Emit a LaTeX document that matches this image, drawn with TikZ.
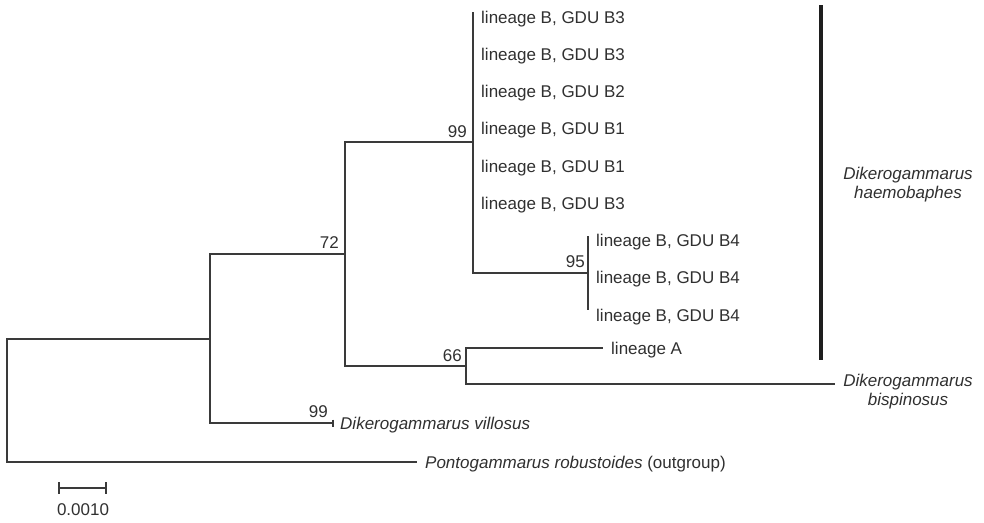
\documentclass[tikz,border=0pt]{standalone}
\usepackage{fontspec}
\setmainfont{Liberation Sans}
\definecolor{treegray}{HTML}{3A3A3A}
\definecolor{txtgray}{HTML}{303030}
\definecolor{bargray}{HTML}{1E1E1E}
\begin{document}
\begin{tikzpicture}[x=1pt,y=-1pt,
  branch/.style={draw=treegray, line width=1.9pt},
  leaflab/.style={anchor=base west, inner sep=0pt, text=txtgray, font=\fontsize{17}{19}\selectfont},
  boot/.style={anchor=base east, inner sep=0pt, text=txtgray, font=\fontsize{17}{19}\selectfont},
  cladelab/.style={anchor=base, inner sep=0pt, align=center, text=txtgray, font=\fontsize{17}{19}\selectfont\itshape}]
\useasboundingbox (0,0) rectangle (984,522);
% internal nodes
\coordinate (root) at (7,400.3);
\coordinate (n2) at (210,338.6);
\coordinate (n72) at (345,254.2);
\coordinate (n99) at (473,142.4);
\coordinate (n95) at (588,272.75);
\coordinate (n66) at (466,366);
% leaves
\coordinate (b1) at (473,12);
\coordinate (b2) at (473,49.25);
\coordinate (b3) at (473,86.5);
\coordinate (b4) at (473,123.75);
\coordinate (b5) at (473,161);
\coordinate (b6) at (473,198.25);
\coordinate (c1) at (588,235.5);
\coordinate (c2) at (588,272.75);
\coordinate (c3) at (588,310);
\coordinate (la) at (603,348);
\coordinate (bs) at (835,384);
\coordinate (vil) at (333,423);
\coordinate (vilt) at (333,419.5);
\coordinate (vilb) at (333,426.5);
\coordinate (og) at (417,462);
% branches
\draw[branch] (root) |- (n2);
\draw[branch] (root) |- (og);
\draw[branch] (n2) |- (n72);
\draw[branch] (n2) |- (vil);
\draw[branch] (vilt) -- (vilb);
\draw[branch] (n72) |- (n99);
\draw[branch] (n72) |- (n66);
\draw[branch] (n99) |- (b1);
\draw[branch] (n99) |- (n95);
\draw[branch] (n95) |- (c1);
\draw[branch] (n95) |- (c3);
\draw[branch] (n66) |- (la);
\draw[branch] (n66) |- (bs);
% leaf labels
\node[leaflab] (lb1) at (481,23) {lineage B, GDU B3};
\node[leaflab] (lb2) at (481,60.25) {lineage B, GDU B3};
\node[leaflab] (lb3) at (481,97.5) {lineage B, GDU B2};
\node[leaflab] (lb4) at (481,134.75) {lineage B, GDU B1};
\node[leaflab] (lb5) at (481,172) {lineage B, GDU B1};
\node[leaflab] (lb6) at (481,209.25) {lineage B, GDU B3};
\node[leaflab] (lc1) at (596,246.5) {lineage B, GDU B4};
\node[leaflab] (lc2) at (596,283.75) {lineage B, GDU B4};
\node[leaflab] (lc3) at (596,321) {lineage B, GDU B4};
\node[leaflab] (lla) at (611,354) {lineage A};
\node[leaflab] (lvil) at (340,429) {\itshape Dikerogammarus villosus};
\node[leaflab] (log) at (425,468) {\textit{Pontogammarus robustoides} (outgroup)};
\node[cladelab] (lbs) at (908,405) {Dikerogammarus\\bispinosus};
\node[cladelab] (lhae) at (908,198) {Dikerogammarus\\haemobaphes};
% bootstrap values
\node[boot] (s99) at (467,137) {99};
\node[boot] (s72) at (339,248) {72};
\node[boot] (s95) at (585,267) {95};
\node[boot] (s66) at (462,361) {66};
\node[boot] (s99v) at (328,417) {99};
% clade bar
\coordinate (bartop) at (821,5);
\coordinate (barbot) at (821,360);
\draw[draw=bargray, line width=3.6pt] (bartop) -- (barbot);
% scale bar
\coordinate (sbl) at (59,488);
\coordinate (sbr) at (106,488);
\draw[branch] (sbl) -- (sbr);
\draw[branch] ([yshift=6pt]sbl) -- ([yshift=-6pt]sbl);
\draw[branch] ([yshift=6pt]sbr) -- ([yshift=-6pt]sbr);
\node[anchor=base, inner sep=0pt, text=txtgray, font=\fontsize{17}{19}\selectfont] (slab) at (83,515) {0.0010};
\end{tikzpicture}
\end{document}
